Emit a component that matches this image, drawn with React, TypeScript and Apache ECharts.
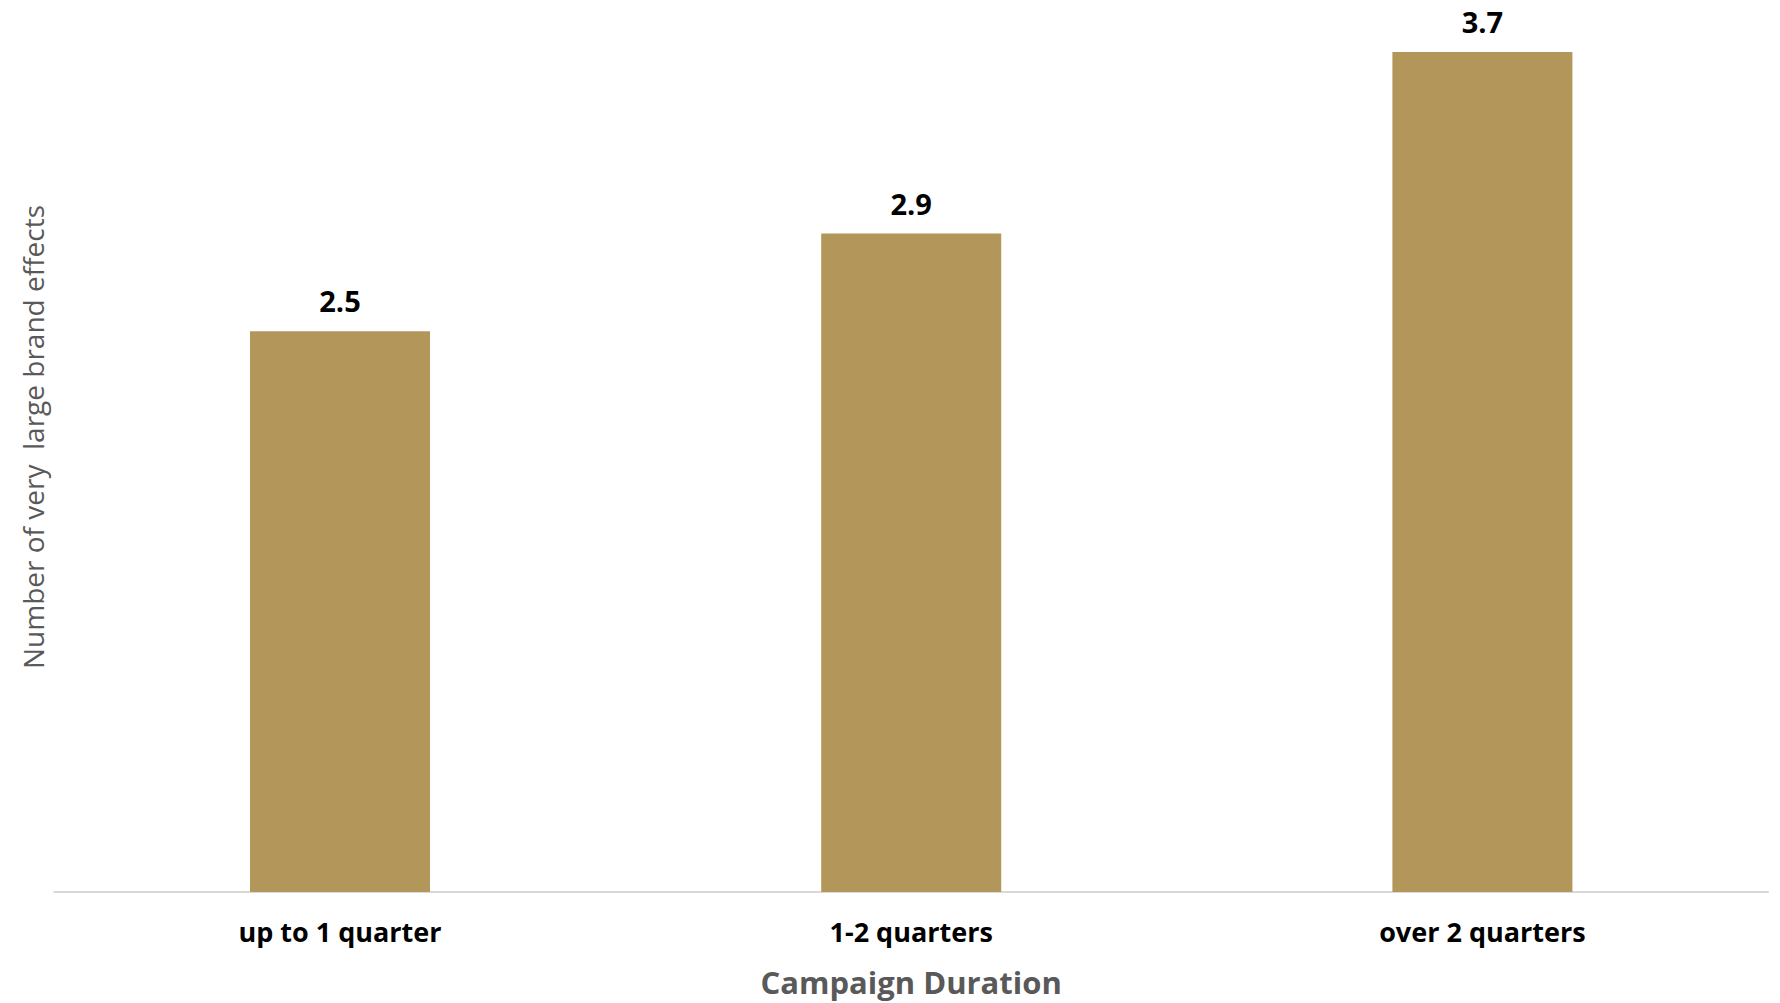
import React, { useEffect, useRef } from "react";
import * as echarts from "echarts";

const categories = ["up to 1 quarter", "1-2 quarters", "over 2 quarters"];
const values = [2.47, 2.9, 3.7];
const xAxisTitle = "Campaign Duration";
const yAxisTitle = "Number of very  large brand effects";

export default function App() {
  const ref = useRef<HTMLDivElement>(null);
  useEffect(() => {
    const chart = echarts.init(ref.current!, null, { renderer: "svg" });
    chart.setOption({
      animation: false,
      backgroundColor: "#ffffff",
      grid: { left: 54.4, right: 12, top: 52, bottom: 111, containLabel: false },
      xAxis: {
        type: "category",
        data: categories,
        name: xAxisTitle,
        nameLocation: "middle",
        nameGap: 74,
        nameTextStyle: { color: "#595959", fontSize: 31, fontWeight: "bold", fontFamily: "Open Sans" },
        axisLine: { lineStyle: { color: "#d9d9d9", width: 2 } },
        axisTick: { show: false },
        axisLabel: { color: "#000000", fontSize: 27, fontWeight: "bold", fontFamily: "Open Sans", margin: 26 },
      },
      yAxis: {
        type: "value",
        min: 0,
        max: 3.7,
        show: true,
        name: yAxisTitle,
        nameLocation: "middle",
        nameGap: 7,
        nameRotate: 90,
        nameTextStyle: { color: "#595959", fontSize: 28, fontFamily: "Open Sans", padding: [0, 0, 0, 70] },
        axisLine: { show: false },
        axisTick: { show: false },
        axisLabel: { show: false },
        splitLine: { show: false },
      },
      series: [
        {
          type: "bar",
          data: values,
          barWidth: 180,
          itemStyle: { color: "#b3965a" },
          label: {
            show: true,
            position: "top",
            distance: 16,
            color: "#000000",
            fontSize: 29,
            fontWeight: "bold",
            fontFamily: "Open Sans",
            formatter: (p: any) => p.value.toFixed(1),
          },
        },
      ],
    });
    return () => chart.dispose();
  }, []);
  return (
    <div
      ref={ref}
      style={{ position: "fixed", left: 0, top: 0, width: 1780, height: 1003 }}
    />
  );
}
